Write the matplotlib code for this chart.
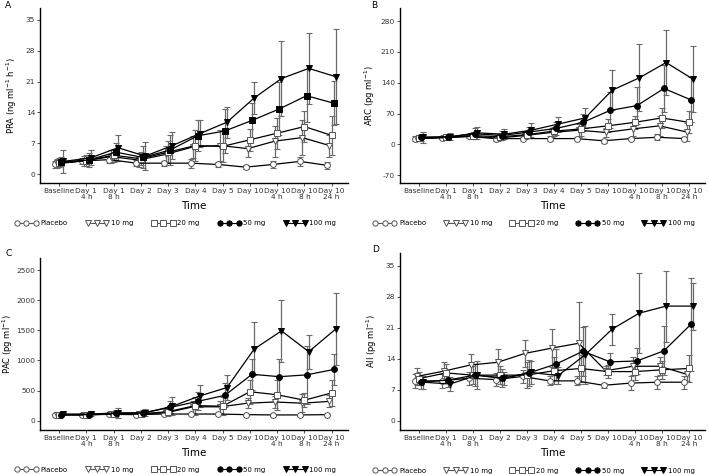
import numpy as np
import matplotlib as mpl
import matplotlib.pyplot as plt
from matplotlib.lines import Line2D

times = ['Baseline', 'Day 1\n4 h', 'Day 1\n8 h', 'Day 2', 'Day 3', 'Day 4',
         'Day 5', 'Day 10', 'Day 10\n4 h', 'Day 10\n8 h', 'Day 10\n24 h']
groups = ['Placebo', '10 mg', '20 mg', '50 mg', '100 mg']

# PRA (ng ml-1 h-1): placebo, 10, 20, 50, 100 mg
pra_mean = [[2.3, 3.0, 3.3, 2.5, 2.5, 2.5, 2.2, 1.6, 2.2, 2.9, 2.0],
            [2.5, 3.0, 4.0, 3.2, 4.5, 6.2, 6.5, 5.8, 7.5, 8.3, 6.5],
            [2.6, 3.1, 4.3, 3.5, 5.0, 6.5, 6.3, 7.8, 9.3, 10.8, 8.8],
            [2.8, 3.2, 5.0, 3.8, 5.5, 8.7, 9.8, 12.2, 14.8, 17.8, 16.1],
            [2.9, 3.7, 6.0, 4.1, 6.5, 9.2, 11.8, 17.3, 21.7, 24.0, 22.1]]
pra_sd = [[0.8, 0.7, 0.8, 0.7, 0.6, 1.0, 0.6, 0.5, 0.8, 1.0, 0.8],
          [1.0, 1.2, 1.5, 1.5, 2.0, 2.5, 3.5, 2.0, 3.5, 4.0, 2.5],
          [1.0, 1.2, 1.5, 1.5, 2.5, 3.5, 3.5, 2.5, 3.5, 3.5, 4.5],
          [1.0, 1.5, 2.0, 2.5, 3.5, 3.5, 5.0, 4.0, 6.0, 6.0, 5.0],
          [2.6, 1.7, 3.0, 3.1, 3.0, 3.0, 3.5, 3.7, 8.6, 8.0, 10.8]]

# ARC (pg ml-1)
arc_mean = [[13, 15, 18, 13, 13, 13, 13, 8, 13, 16, 13],
            [13, 15, 18, 14, 20, 27, 32, 27, 35, 42, 28],
            [14, 16, 20, 17, 22, 30, 35, 42, 50, 60, 50],
            [16, 17, 24, 20, 28, 36, 50, 77, 88, 127, 101],
            [16, 17, 26, 23, 32, 46, 60, 123, 151, 186, 148]]
arc_sd = [[5, 4, 4, 5, 4, 5, 4, 4, 4, 7, 4],
          [5, 5, 6, 6, 8, 10, 15, 10, 15, 22, 20],
          [6, 5, 8, 7, 8, 10, 15, 15, 15, 22, 25],
          [8, 6, 12, 10, 12, 15, 20, 41, 42, 53, 51],
          [13, 8, 14, 11, 16, 17, 22, 45, 76, 74, 75]]

# PAC (pg ml-1)
pac_mean = [[100, 95, 105, 100, 110, 110, 110, 100, 95, 95, 100],
            [95, 95, 110, 115, 130, 230, 230, 290, 310, 290, 320],
            [100, 100, 110, 110, 150, 250, 240, 480, 430, 340, 460],
            [100, 100, 120, 130, 220, 320, 420, 770, 730, 760, 850],
            [110, 110, 130, 130, 240, 410, 550, 1190, 1490, 1145, 1525]]
pac_sd = [[10, 10, 12, 12, 15, 15, 12, 10, 10, 10, 10],
          [20, 20, 30, 40, 60, 100, 100, 80, 100, 150, 100],
          [20, 30, 40, 40, 80, 150, 150, 200, 250, 120, 220],
          [20, 20, 50, 50, 100, 150, 200, 260, 300, 480, 250],
          [20, 30, 80, 60, 150, 180, 200, 440, 520, 285, 600]]

# AII (pg ml-1)
aii_mean = [[9.0, 9.0, 9.6, 9.3, 10.0, 9.0, 9.0, 8.0, 8.5, 8.7, 8.7],
            [10.0, 11.2, 12.6, 13.2, 15.2, 16.4, 17.5, 11.3, 12.3, 12.3, 10.5],
            [9.5, 10.8, 10.3, 10.3, 10.3, 11.3, 11.8, 11.1, 11.1, 11.5, 11.8],
            [8.7, 9.2, 10.3, 9.6, 10.8, 12.8, 15.7, 13.3, 13.5, 15.8, 21.8],
            [8.7, 8.3, 10.3, 9.6, 10.9, 10.2, 14.9, 20.7, 24.3, 25.9, 25.9]]
aii_sd = [[1.5, 1.5, 1.5, 1.5, 1.5, 1.0, 1.0, 0.5, 1.5, 1.5, 1.5],
          [2.0, 2.0, 2.5, 3.0, 3.0, 4.3, 9.3, 1.0, 2.0, 2.0, 1.5],
          [1.5, 2.0, 2.0, 2.0, 3.0, 3.0, 3.0, 1.5, 2.0, 2.0, 3.0],
          [1.5, 1.5, 2.5, 2.0, 3.0, 3.5, 5.5, 2.0, 3.0, 5.5, 10.5],
          [1.5, 1.5, 3.2, 1.5, 2.5, 2.0, 6.5, 3.5, 9.0, 8.0, 5.3]]

mpl.rcParams['font.family'] = 'DejaVu Sans'
mpl.rcParams['axes.linewidth'] = 1.0

fig = plt.figure(figsize=(7.09, 4.74), dpi=100)

W, H = 709, 474


def add_axes(l, r, t, b):
    return fig.add_axes([l / W, 1 - b / H, (r - l) / W, (b - t) / H])


markers_std = ['o', 'v', 's', 'o', 'v']
faces = ['white', 'white', 'white', 'black', 'black']
edges = ['#555555', '#555555', '#555555', 'black', 'black']
offsets = [-0.16, -0.08, 0.0, 0.08, 0.16]


def panel(ax, means, sds, ylabel, yticks, ylim, letter, lpos, ylab_px, markers):
    x = np.arange(len(times))
    for i in range(len(groups)):
        ax.errorbar(x + offsets[i], means[i], yerr=sds[i], fmt='none',
                    ecolor='#6a6a6a', elinewidth=0.9, capsize=2.2, capthick=0.8,
                    zorder=2)
        ax.plot(x + offsets[i], means[i], color='black', lw=0.9,
                marker=markers[i], ms=4.2, mfc=faces[i], mec=edges[i],
                mew=0.7, zorder=3)
    ax.set_xticks(x)
    ax.set_xticklabels(times, fontsize=5.3, linespacing=0.95)
    ax.set_yticks(yticks)
    ax.set_yticklabels([str(v) for v in yticks], fontsize=5.3)
    ax.set_ylim(ylim)
    ax.set_xlim(-0.7, len(times) - 0.4)
    ax.set_ylabel(ylabel, fontsize=6.0)
    # y label: right edge a fixed number of pixels left of the axis
    ax_w = ax.get_position().width * W
    ax.yaxis.set_label_coords(-ylab_px / ax_w, 0.5)
    ax.set_xlabel('Time', fontsize=7.5, labelpad=1)
    ax.spines['top'].set_visible(False)
    ax.spines['right'].set_visible(False)
    ax.tick_params(length=2, width=0.6, pad=1.5, colors='#333333')
    fig.text(lpos[0] / W, 1 - lpos[1] / H, letter, fontsize=6.5,
             va='center', ha='left')

    handles = [Line2D([0], [0], color='#555555' if i < 3 else 'black', lw=0.8,
                      marker=markers[i] if i != 3 else 'o', ms=3.8,
                      mfc=faces[i], mec=edges[i], mew=0.7)
               for i in range(len(groups))]
    ax.legend(handles, groups, loc='center', bbox_to_anchor=(0.44, -0.23),
              ncol=5, frameon=False, fontsize=5.0, numpoints=3,
              handlelength=3.3, handletextpad=0.4, columnspacing=2.6)


axA = add_axes(40, 348, 8, 183)
panel(axA, pra_mean, pra_sd, 'PRA (ng ml$^{-1}$ h$^{-1}$)',
      [0, 7, 14, 21, 28, 35], (-2.0, 37.7), 'A', (5, 6), 21,
      ['o', 'v', 's', 's', 'v'])

axB = add_axes(400, 705, 8, 183)
panel(axB, arc_mean, arc_sd, 'ARC (pg ml$^{-1}$)',
      [-70, 0, 70, 140, 210, 280], (-88, 310), 'B', (371, 6), 23, markers_std)

axC = add_axes(40, 348, 258, 430)
panel(axC, pac_mean, pac_sd, 'PAC (pg ml$^{-1}$)',
      [0, 500, 1000, 1500, 2000, 2500], (-155, 2700), 'C', (5, 254), 25,
      markers_std)

axD = add_axes(400, 705, 253, 430)
panel(axD, aii_mean, aii_sd, 'AII (pg ml$^{-1}$)',
      [0, 7, 14, 21, 28, 35], (-2.1, 37.9), 'D', (372, 250), 21, markers_std)

plt.savefig('out.png', dpi=100)
